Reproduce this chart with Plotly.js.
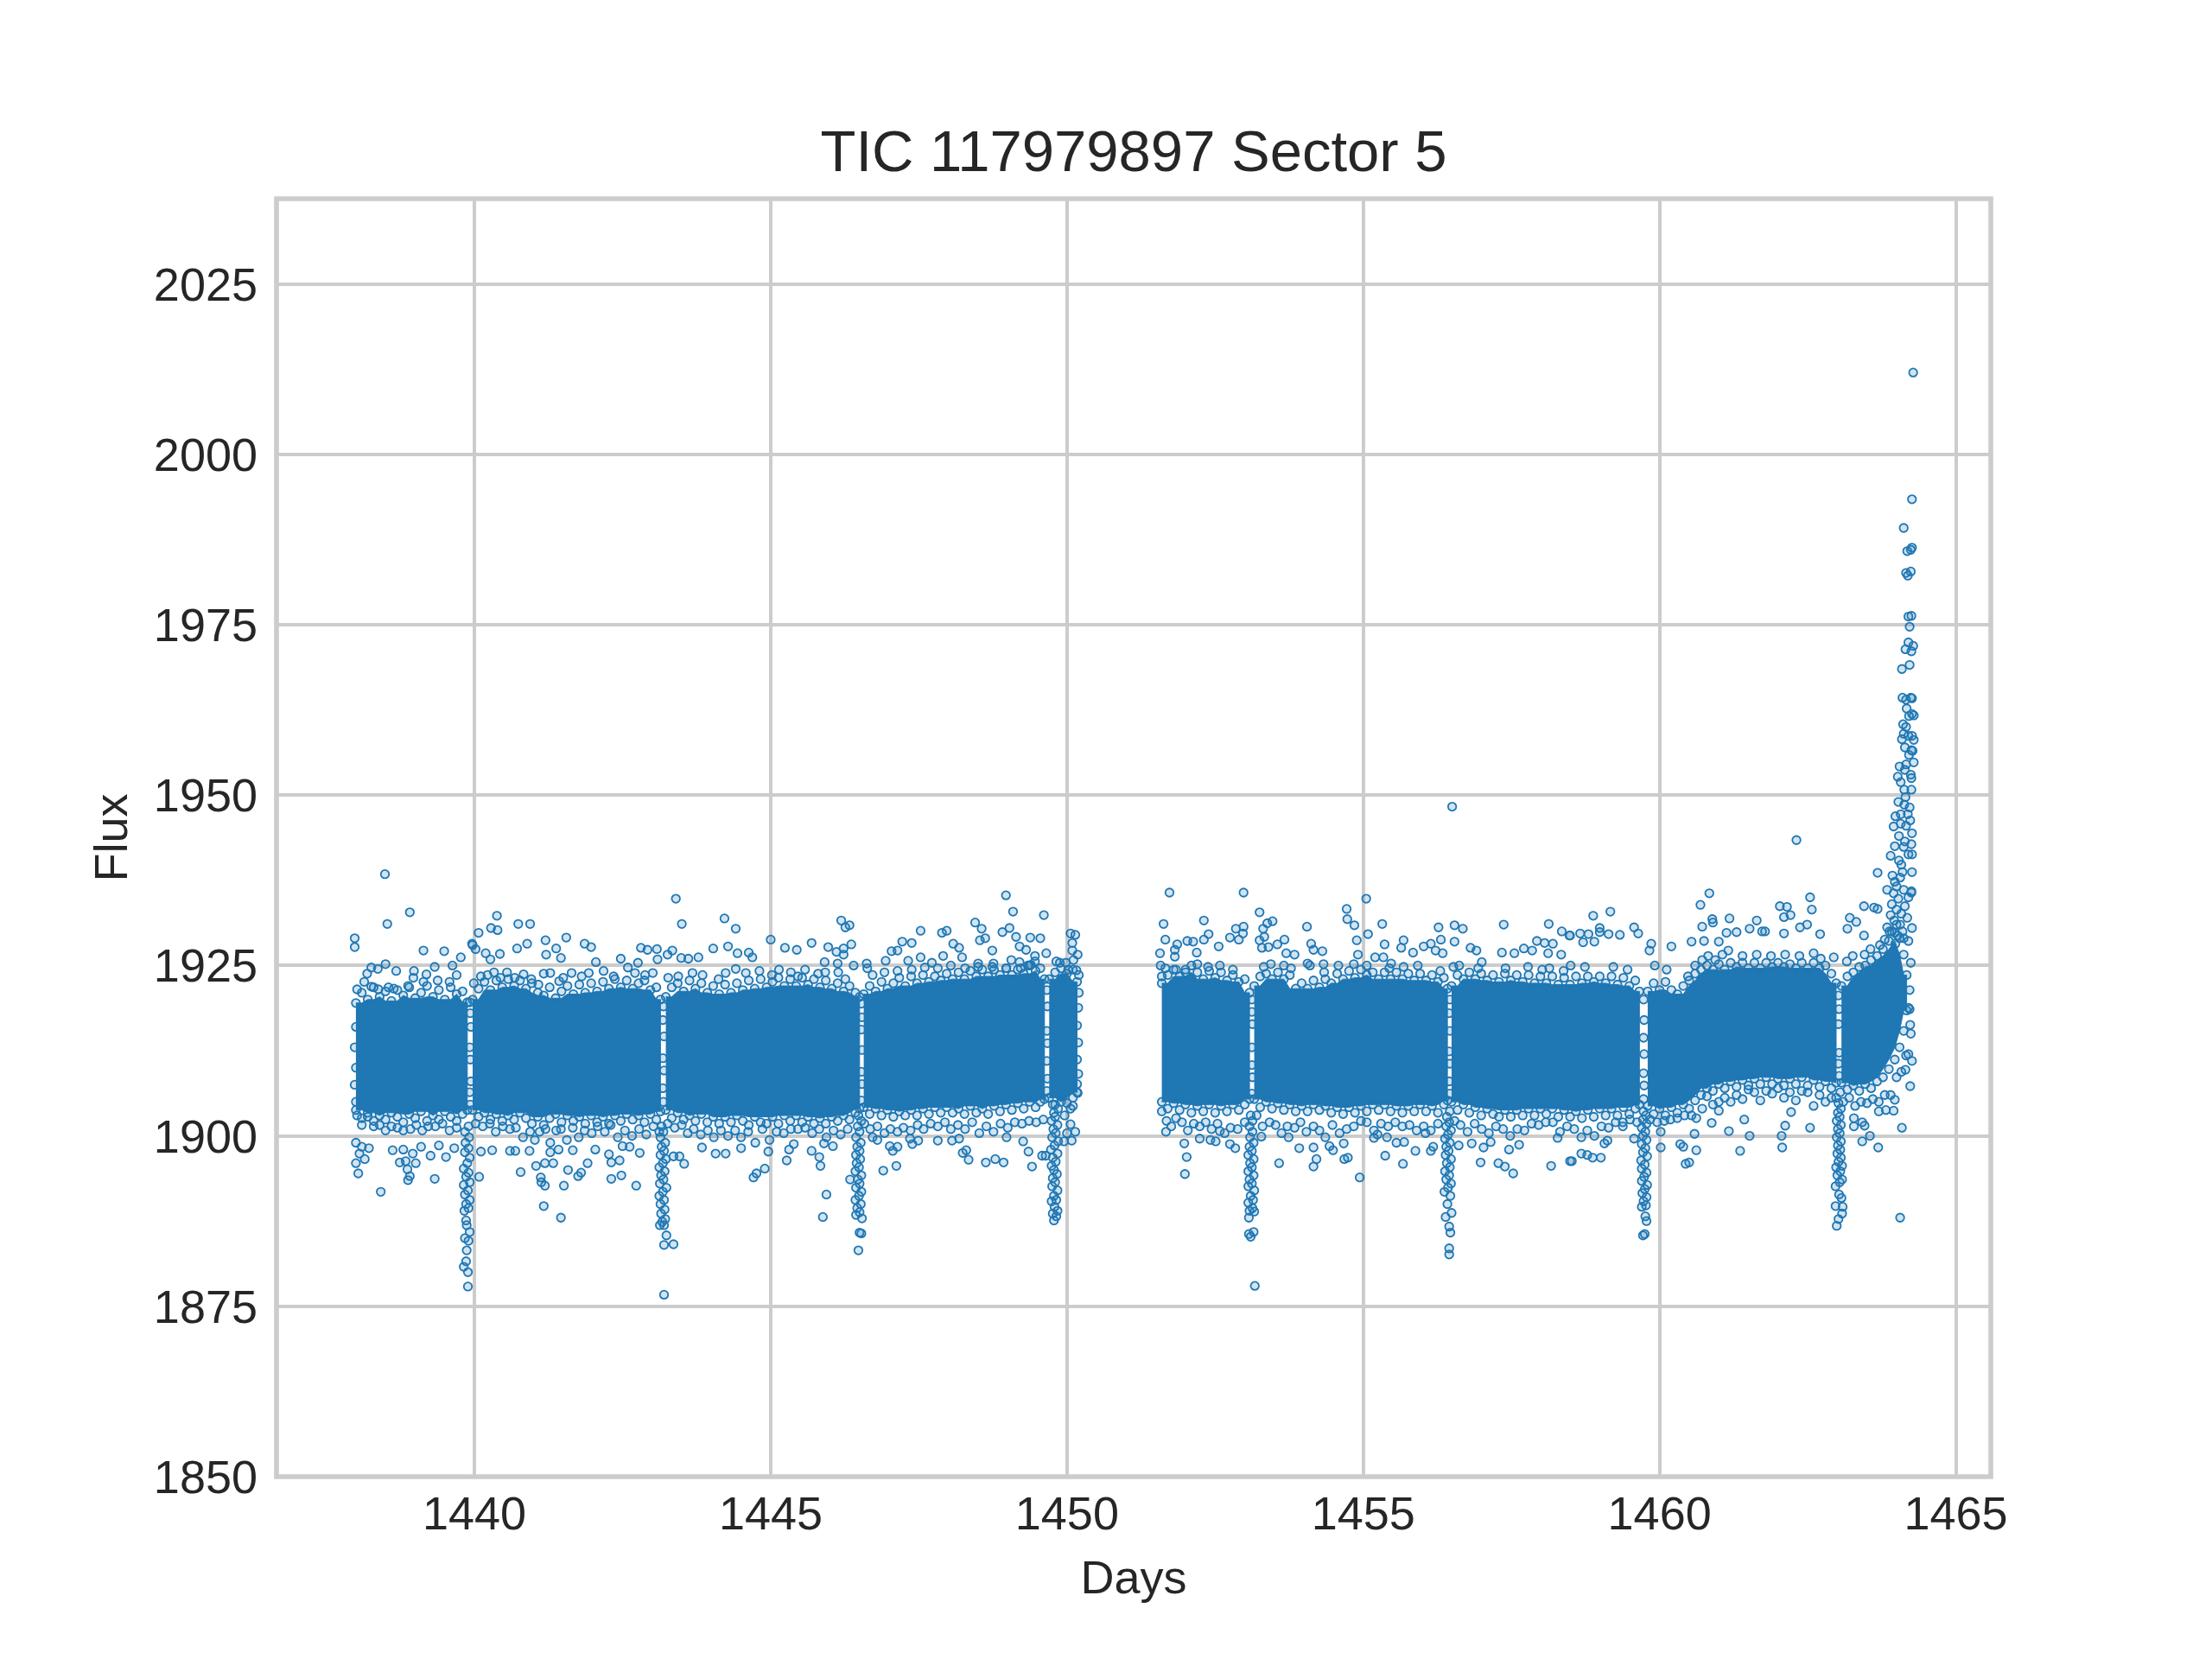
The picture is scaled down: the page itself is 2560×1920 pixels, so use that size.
<!DOCTYPE html>
<html><head><meta charset="utf-8">
<script src="https://cdn.plot.ly/plotly-3.0.1.min.js"></script>
<style>html,body{margin:0;padding:0;background:#fff}#c{width:2560px;height:1920px}</style>
</head><body><div id="c"></div>
<script>
const chartTitle = "TIC 117979897 Sector 5", xLabel = "Days", yLabel = "Flux";
const xTicks = [1440,1445,1450,1455,1460,1465];
const yTicks = [1850,1875,1900,1925,1950,1975,2000,2025];

// Solid body of the light curve, read as [day, upper edge, lower edge]; too many points overlap there to read singly.
const bodyA = [[1438,1919.5,1903.8],[1438.1,1921,1902.6],[1438.2,1920,1903.4],[1438.3,1921.8,1902.2],[1438.4,1920.4,1903],[1438.5,1921.2,1902.4],[1438.6,1919.8,1903.4],[1438.7,1921.4,1902.8],[1438.8,1920.6,1902],[1438.9,1921.8,1903.2],[1439,1920.2,1902.6],[1439.1,1921,1903.6],[1439.2,1922,1902.2],[1439.3,1920.4,1903],[1439.4,1921.4,1902.4],[1439.5,1920,1903.6],[1439.6,1921.8,1902.8],[1439.7,1920.8,1902.2],[1439.8,1921.2,1903.2],[1439.88,1919.6,1903.8]];
const bodyB = [[1439.97,1920,1903.8],[1440.07,1921.6,1902.8],[1440.17,1922.6,1903.4],[1440.27,1921.4,1902.4],[1440.37,1922.8,1903.2],[1440.47,1921.8,1902.2],[1440.57,1923,1903],[1440.67,1922,1902.4],[1440.77,1922.8,1903.4],[1440.87,1921.6,1902.6],[1440.97,1922.4,1901.8],[1441.07,1921,1902.8],[1441.17,1920.6,1901.6],[1441.27,1921.8,1902.6],[1441.37,1920.2,1903.2],[1441.47,1921.2,1902],[1441.57,1922,1903],[1441.67,1920.8,1902.2],[1441.77,1922.2,1902.8],[1441.87,1921,1901.8],[1441.97,1922.4,1903],[1442.07,1921.2,1902],[1442.17,1922.6,1902.8],[1442.27,1921.6,1901.8],[1442.37,1923,1903],[1442.47,1921.8,1902.2],[1442.57,1922.8,1903.2],[1442.67,1921.6,1902.4],[1442.77,1922.4,1903],[1442.87,1922.8,1902],[1442.97,1921.4,1903.2],[1443.07,1921.8,1902.4],[1443.14,1920,1903.6]];
const bodyC = [[1443.23,1920.4,1903.8],[1443.33,1921.8,1902.6],[1443.43,1922.4,1903.4],[1443.53,1921.2,1902.4],[1443.63,1922.8,1903],[1443.73,1921.6,1902.2],[1443.83,1922.4,1903.2],[1443.93,1921,1902],[1444.03,1922,1902.8],[1444.13,1920.8,1901.8],[1444.23,1922.2,1902.8],[1444.33,1921,1902],[1444.43,1922.4,1903],[1444.53,1921.4,1902.2],[1444.63,1922.8,1901.6],[1444.73,1921.6,1902.8],[1444.83,1923,1902],[1444.93,1921.8,1901.8],[1445.03,1922.6,1902.8],[1445.13,1923.2,1901.8],[1445.23,1922,1903],[1445.33,1923,1902.2],[1445.43,1922,1903],[1445.53,1923.2,1902],[1445.63,1922.2,1902.8],[1445.73,1923,1901.8],[1445.83,1921.8,1902.6],[1445.93,1922.8,1901.8],[1446.03,1921.6,1902.8],[1446.13,1922.4,1902.2],[1446.23,1921.2,1903],[1446.33,1922,1902.4],[1446.43,1921,1903.4],[1446.5,1920.4,1904]];
const bodyD = [[1446.57,1920.8,1904.2],[1446.67,1922,1903.2],[1446.77,1921.2,1904],[1446.87,1922.6,1903],[1446.97,1921.6,1903.8],[1447.07,1922.4,1902.8],[1447.17,1923.2,1903.6],[1447.27,1922,1903],[1447.37,1923.4,1903.8],[1447.47,1922.4,1903],[1447.57,1923.6,1904],[1447.67,1922.6,1903.2],[1447.77,1923.4,1904.2],[1447.87,1922.8,1903.4],[1447.97,1923.8,1904.2],[1448.07,1923,1903.4],[1448.17,1924,1904],[1448.27,1923,1903.2],[1448.37,1924.2,1904.4],[1448.47,1923.4,1903.4],[1448.57,1924.4,1904],[1448.67,1923.4,1903.2],[1448.77,1924.4,1904.4],[1448.87,1923.6,1903.6],[1448.97,1924.6,1904.6],[1449.07,1923.6,1903.8],[1449.17,1924.4,1904.8],[1449.27,1923.8,1904],[1449.37,1925,1905],[1449.47,1924.2,1904.2],[1449.55,1924.6,1905],[1449.62,1923,1905.4]];
const bodyE = [[1449.7,1923,1905.6],[1449.8,1924,1904.6],[1449.9,1924.6,1905],[1450,1923.8,1904.8],[1450.1,1924.4,1905.6],[1450.17,1922.6,1906.4]];
const bodyF = [[1451.6,1922.4,1905],[1451.7,1923.6,1904],[1451.8,1924.4,1904.8],[1451.9,1923.4,1903.8],[1452,1924,1904.6],[1452.1,1925,1903.4],[1452.2,1924,1904.4],[1452.3,1923,1903.6],[1452.4,1924.2,1904.6],[1452.5,1923.2,1903.4],[1452.6,1924,1904.4],[1452.7,1922.8,1903.6],[1452.8,1923.6,1904.6],[1452.9,1922.6,1903.8],[1453,1923,1904.6],[1453.08,1921,1905.4]];
const bodyG = [[1453.16,1922,1905.4],[1453.26,1923.4,1904.2],[1453.36,1923.8,1905],[1453.46,1923,1904],[1453.56,1924,1904.8],[1453.66,1923,1903.8],[1453.76,1923.6,1904.6],[1453.86,1921.6,1903.6],[1453.96,1922.4,1904.4],[1454.06,1921.6,1903.6],[1454.16,1922.8,1904.6],[1454.26,1921.8,1903.8],[1454.36,1923,1904.4],[1454.46,1922.4,1903.4],[1454.56,1923.8,1904.2],[1454.66,1923,1903.2],[1454.76,1924.2,1904.2],[1454.86,1923.2,1903.4],[1454.96,1924.4,1904.4],[1455.06,1923.6,1903.6],[1455.16,1924,1904.6],[1455.26,1923,1903.8],[1455.36,1924,1904.6],[1455.46,1923,1903.6],[1455.56,1924,1904.4],[1455.66,1923,1903.4],[1455.76,1923.8,1904.4],[1455.86,1922.8,1903.6],[1455.96,1923.8,1904.6],[1456.06,1922.8,1903.6],[1456.16,1923.6,1904.4],[1456.26,1922.6,1903.4],[1456.36,1923.2,1904.6],[1456.42,1921.6,1905.2]];
const bodyH = [[1456.49,1922,1905],[1456.59,1923.6,1903.8],[1456.69,1923,1904.6],[1456.79,1924,1903.4],[1456.89,1923,1904.2],[1456.99,1923.8,1903],[1457.09,1922.8,1904],[1457.19,1923.6,1903.2],[1457.29,1922.6,1902.8],[1457.39,1923.8,1903.8],[1457.49,1922.8,1902.8],[1457.59,1923.6,1903.8],[1457.69,1922.6,1903],[1457.79,1923.6,1904],[1457.89,1922.4,1903],[1457.99,1923.4,1904],[1458.09,1922.4,1903.2],[1458.19,1923.4,1904],[1458.29,1922.2,1902.8],[1458.39,1923.2,1903.8],[1458.49,1922.2,1902.8],[1458.59,1923.4,1903.6],[1458.69,1922.4,1902.6],[1458.79,1923.4,1903.8],[1458.89,1922.6,1902.8],[1458.99,1923.4,1904],[1459.09,1922.4,1903],[1459.19,1923.4,1904],[1459.29,1922.2,1903],[1459.39,1923.2,1904.2],[1459.49,1922,1903.2],[1459.59,1922.8,1904],[1459.66,1921.2,1904.6]];
const bodyI = [[1459.8,1921.2,1904.4],[1459.9,1922.4,1903.2],[1460,1921.4,1904],[1460.1,1922.6,1903],[1460.2,1921.4,1904.2],[1460.3,1920.8,1903.4],[1460.4,1922,1904.6],[1460.5,1922.8,1904],[1460.6,1923.8,1905.2],[1460.7,1924.4,1906],[1460.8,1925,1907],[1460.9,1924.4,1906.6],[1461,1925.2,1907.6],[1461.1,1924.4,1907],[1461.2,1925.4,1908],[1461.3,1924.8,1907.2],[1461.4,1925.4,1908.2],[1461.5,1924.6,1907.4],[1461.6,1925.4,1908.4],[1461.7,1924.6,1907.6],[1461.8,1925.4,1908.6],[1461.9,1924.8,1907.6],[1462,1925.4,1908.4],[1462.1,1924.8,1907.4],[1462.2,1925.2,1908.4],[1462.3,1924.6,1907.6],[1462.4,1925.4,1908.6],[1462.5,1924.6,1907.4],[1462.6,1925.4,1908.2],[1462.7,1924.6,1907.2],[1462.8,1925,1908],[1462.9,1923.8,1907],[1462.98,1922.4,1907.8]];
const bodyJ = [[1463.07,1922,1907.8],[1463.17,1923.4,1906.8],[1463.27,1924,1907.4],[1463.37,1924.8,1906.6],[1463.47,1925,1907.6],[1463.57,1925.8,1907],[1463.67,1926.4,1908],[1463.77,1927.4,1908.6],[1463.87,1928.6,1909.8],[1463.97,1929.8,1911.2],[1464.05,1929,1913],[1464.12,1926.6,1915.4],[1464.17,1923.6,1918.4]];
const bodySlices = [bodyA,bodyB,bodyC,bodyD,bodyE,bodyF,bodyG,bodyH,bodyI,bodyJ];

// Points that fall in the narrow slits between body slices
const slitPoints = [[1439.93,1904.6],[1439.92,1906.4],[1439.94,1908],[1439.93,1911.2],[1439.92,1913],[1439.94,1916],[1439.93,1918],[1439.92,1919.6],
[1443.19,1905],[1443.18,1907],[1443.2,1909.6],[1443.18,1911.4],[1443.2,1914.6],[1443.18,1917],[1443.19,1919],
[1446.53,1905.2],[1446.54,1907.6],[1446.53,1909.4],[1446.54,1912.6],[1446.53,1915.6],[1446.54,1917.4],[1446.53,1919.4],
[1449.66,1906.6],[1449.67,1908.4],[1449.66,1911],[1449.67,1913.6],[1449.66,1915.4],[1449.67,1919],[1449.66,1921.4],
[1453.12,1906.2],[1453.13,1908.6],[1453.12,1910.4],[1453.12,1913],[1453.13,1916.4],[1453.12,1918.2],[1453.12,1920],
[1456.46,1906.2],[1456.45,1908],[1456.46,1910.6],[1456.45,1912.4],[1456.46,1915.4],[1456.45,1918],[1456.46,1920],
[1459.73,1905.4],[1459.74,1907.4],[1459.73,1909.2],[1459.74,1912],[1459.73,1914.4],[1459.74,1917],[1459.73,1920],
[1463.03,1908.8],[1463.02,1910.6],[1463.03,1912.2],[1463.02,1916.4],[1463.03,1918.6],[1463.02,1920.6]];

const highPoints = [[1438.49,1938.4],[1438.91,1932.8],[1438.53,1931.1],[1437.98,1929],[1437.98,1927.7],[1439.14,1927.2],[1439.49,1927.1],[1439.77,1926.2],[1438.5,1925.2],[1438.26,1924.7],[1438.37,1924.5],[1438.19,1923.8],[1438.68,1924.2],[1439.33,1924.8],[1439.63,1925],[1438.98,1924.2],[1439.19,1923.7],[1440.07,1929.8],[1440.28,1930.5],[1440.38,1932.3],[1440.39,1930.2],[1440.74,1931.1],[1440.94,1931.1],[1439.96,1928.2],[1439.97,1928],[1440.02,1927.4],[1440.19,1926.8],[1440.27,1925.9],[1440.43,1926.7],[1440.72,1927.5],[1440.89,1928.2],[1441.2,1928.7],[1441.55,1929.1],[1441.38,1927.5],[1441.86,1928.2],[1441.97,1927.7],[1441.46,1926.1],[1441.21,1926.6],[1442.05,1925.5],[1442.81,1927.6],[1442.92,1927.3],[1443.08,1927.4],[1443.34,1927.2],[1443.26,1926.6],[1443.4,1934.8],[1443.5,1931.1],[1444.22,1931.9],[1444.41,1930.4],[1445,1928.8],[1444.28,1927.8],[1444.03,1927.5],[1444.44,1926.8],[1444.63,1926.9],[1444.69,1926.2],[1443.49,1926.1],[1443.78,1926.2],[1443.61,1926],[1442.47,1926],[1442.76,1925.4],[1443.09,1925.9],
[1445.24,1927.6],[1445.44,1927.3],[1445.69,1928.3],[1445.97,1927.7],[1446.19,1931.6],[1446.26,1930.6],[1446.33,1930.9],[1446.11,1927],[1446.23,1927.5],[1446.36,1928.1],[1446.23,1926.6],[1445.91,1925.5],[1446.13,1925.3],[1446.4,1925],[1446.62,1925.3],[1446.63,1924.6],[1446.94,1925.7],[1447.04,1927.1],[1447.14,1927.2],[1447.22,1928.5],[1447.38,1928.3],[1447.53,1930.1],[1447.89,1929.8],[1447.97,1930.1],[1448.08,1928.2],[1448.18,1927.6],[1448.45,1931.3],[1448.56,1930.4],[1448.53,1928.7],[1448.62,1929],[1448.74,1927.2],[1448.97,1935.3],[1449.09,1932.9],[1449.61,1932.4],[1449.03,1930.5],[1448.91,1929.9],[1449.14,1929.2],[1449.38,1929.1],[1449.55,1929],[1449.2,1927.8],[1449.31,1927.3],[1449.65,1926.8],[1449.46,1926.4],[1450.06,1929.7],[1450.14,1929.5],[1450.09,1928.3],[1450.09,1927.2],[1450.18,1926.6],[1450.11,1925.8],[1449.88,1925.4],[1449.98,1925.4],[1450.16,1924.3],[1449.9,1923],[1447.32,1925.7],[1447.53,1926.2],[1447.72,1925.4],[1447.91,1926.4],[1448.23,1926.2],[1448.5,1925.3],[1448.76,1925.3],[1449.06,1925.8],[1449.2,1925.5],[1449.39,1925.1],
[1451.73,1935.7],[1451.63,1931.1],[1451.66,1928.8],[1451.57,1926.8],[1451.58,1925],[1452.31,1931.6],[1452.98,1935.7],[1453.25,1932.8],[1452.85,1930.4],[1452.98,1930.7],[1452.97,1929.7],[1452.75,1929.1],[1452.9,1928.8],[1452.39,1929.6],[1452.31,1928.8],[1452.03,1928.6],[1452.13,1928.5],[1451.86,1928.1],[1451.82,1927.3],[1451.82,1926.3],[1452.56,1927.8],[1452.19,1926.9],[1453.31,1930.4],[1453.38,1931.2],[1453.47,1931.5],[1453.25,1928.7],[1453.33,1929.2],[1453.29,1927.6],[1453.4,1927.7],[1453.55,1928.1],[1453.67,1928.8],[1453.7,1926.8],[1454.05,1930.7],[1454.12,1928.2],[1454.16,1927.3],[1454.31,1927.1],[1454.72,1933.3],[1454.73,1931.8],[1454.85,1930.9],[1455.05,1934.8],[1455.32,1931.1],[1455.08,1929.6],[1454.89,1928.7],[1455.36,1928.1],[1455.68,1928.7],[1455.64,1927.6],[1455.84,1926.9],[1456.02,1927.8],[1456.14,1928.2],[1456.22,1927.2],[1456.31,1928.8],[1456.34,1926.8],[1456.27,1930.6],[1456.54,1930.9],[1456.68,1930.4],[1456.54,1928.5],[1456.81,1927.6],[1456.91,1927.2],[1457.37,1931],[1457.34,1926.9],[1458.13,1931.1],[1458.35,1930],[1458.48,1929.4],[1457.93,1928.6],[1458.06,1928.3],[1458.2,1928.2],[1457.71,1927.5],[1457.85,1927.2],[1457.55,1926.8],[1458.12,1926.8],[1458.34,1926.6],[1457,1925.5],[1455.2,1926.2],[1455.34,1926.2],[1454.91,1926.6],[1455.47,1925.3],[1453.84,1926.6],[1454.06,1925.3],[1454.33,1925.2],[1456.5,1948.3],
[1458.88,1932.3],[1459.17,1932.9],[1458.49,1929.4],[1458.66,1929.7],[1458.8,1929.6],[1458.99,1930.5],[1458.99,1929.9],[1459.14,1929.6],[1459.33,1929.5],[1459.57,1930.6],[1459.64,1929.7],[1458.71,1928.4],[1458.9,1928.5],[1459.86,1928.2],[1459.83,1927.2],[1460.2,1927.8],[1460.54,1928.5],[1460.84,1935.6],[1460.69,1933.9],[1460.72,1930.7],[1460.89,1931.8],[1460.9,1931.3],[1461.18,1931.9],[1461.64,1931.6],[1462.03,1933.7],[1462.15,1933.6],[1462.1,1932.1],[1462.21,1932.4],[1462.54,1935],[1462.57,1933.2],[1462.37,1930.6],[1462.49,1931],[1462.31,1943.4],[1463.21,1932],[1463.32,1931.4],[1463.17,1930.4],[1463.45,1929.4],[1463.45,1933.7],[1463.62,1933.5],[1463.68,1933.3],[1463.68,1938.6],[1461.73,1930],[1461.78,1930],[1462.1,1929.7],[1462.71,1929.6],[1460.75,1928.6],[1461,1928.5],[1461.13,1929.8],[1461.3,1929.9],[1461.52,1930.4]];

const upperFringe = [[1438.02,1921.5],[1438.14,1922.6],[1438.26,1921.9],[1438.38,1921.5],[1438.55,1921.8],[1438.64,1921.6],[1438.88,1922],[1438.97,1923.2],[1439.14,1922.6],[1439.38,1922.8],[1439.58,1922.6],[1439.7,1923.6],[1439.99,1922.4],[1440.11,1923.4],[1440.22,1923.6],[1440.33,1924],[1440.44,1923.2],[1440.55,1924],[1440.68,1923.2],[1440.83,1923.7],[1440.96,1923],[1441.08,1922.2],[1441.17,1923.8],[1441.28,1923.9],[1441.43,1922.7],[1441.5,1923.2],[1441.64,1923.9],[1441.81,1923.4],[1441.93,1923.9],[1442.18,1924.2],[1442.35,1923.4],[1442.59,1924.7],[1442.71,1923.9],[1442.88,1923.6],[1443.01,1923.9],[1443.27,1923.2],[1443.44,1923.4],[1443.68,1923.9],[1443.85,1923.6],[1444.12,1923],[1444.24,1923.9],[1444.41,1924.5],[1444.58,1923.9],[1444.81,1924.2],[1445.02,1923.6],[1445.14,1924.4],[1445.34,1924],[1445.46,1923.4],[1445.58,1924.4],[1445.8,1923.8],[1445.92,1924],[1446.14,1924],[1446.26,1923],[1446.72,1923.6],[1446.92,1924],[1447.14,1924.2],[1447.38,1924.4],[1447.6,1924.7],[1447.82,1924.6],[1448.04,1925],[1448.28,1924.6],[1448.5,1924.8],[1448.74,1924.8],[1448.98,1924.6],[1449.22,1924.6],[1449.34,1925],[1449.46,1925.6],[1449.82,1925.6],[1450.02,1924.4],[1450.2,1921],[1450.2,1923.6],[1450.19,1918.8],[1450.17,1916.2],[1450.19,1913.7],[1450.17,1911.2],[1450.19,1909.1],[1450.17,1907.6],[1450.18,1906.3],[1438,1916],[1437.98,1913],[1438,1910],[1437.98,1907.5],[1438,1905],
[1451.6,1923.4],[1451.66,1924.6],[1451.84,1924.4],[1452,1924.4],[1452.2,1925.2],[1452.38,1924.8],[1452.58,1925],[1452.8,1924.4],[1453.32,1924.8],[1453.44,1925.2],[1453.66,1925],[1453.78,1924.6],[1454.1,1925],[1454.34,1924],[1454.58,1925],[1454.84,1925.2],[1455.06,1925],[1455.44,1924.6],[1455.68,1924.8],[1455.92,1925],[1456.3,1924.2],[1456.52,1924.8],[1456.62,1925],[1456.94,1924.6],[1457.4,1924.6],[1457.78,1924.8],[1458.02,1924.4],[1458.14,1924.6],[1458.38,1924.2],[1458.5,1925],[1458.74,1924.8],[1459.22,1924.8],[1459.46,1924.4],[1459.92,1925],[1460.12,1924.4],[1460.48,1923.4],[1460.6,1925],[1460.72,1925.8],[1460.82,1926.4],[1460.94,1925.8],[1461.06,1926.6],[1461.16,1927.2],[1461.4,1926.4],[1461.64,1926.6],[1461.88,1926.4],[1462.12,1926.6],[1462.36,1926.4],[1462.6,1926.8],[1462.72,1926],[1462.94,1926.2],[1463.16,1925.6],[1463.26,1926.4],[1463.46,1926.6],[1463.56,1927.4],[1463.72,1928],[1463.8,1928.8],[1463.88,1930],[1464,1931],[1464.1,1930],[1464.24,1925.4],[1464.22,1921.4],[1464.24,1915],[1464.22,1918.6],[1464.2,1918.8],[1464.23,1916.3],[1464.2,1912],[1464.26,1911],[1464.15,1909.7],[1464.23,1907.3],[1464.26,1930.5],[1464.25,1935.7]];

const lowerFringe = [[1438.02,1903],[1438.1,1901.6],[1438.2,1902.8],[1438.3,1901.4],[1438.4,1901.6],[1438.5,1900.8],[1438.6,1901.4],[1438.7,1901.2],[1438.8,1900.8],[1438.92,1901],[1439.02,1901.6],[1439.12,1900.8],[1439.22,1901.4],[1439.34,1901.4],[1439.46,1901.8],[1439.58,1900.8],[1439.7,1901.2],[1440.02,1901.8],[1440.14,1901.4],[1440.26,1901.8],[1440.36,1900.6],[1440.48,1901.4],[1440.6,1901],[1440.7,1901.2],[1440.82,1899.8],[1440.94,1900.6],[1441.02,1899.4],[1441.1,1900.6],[1441.2,1901],[1441.28,1899],[1441.38,1900.8],[1441.46,1901],[1441.56,1899.4],[1441.66,1901.2],[1441.76,1899.8],[1441.86,1900.8],[1441.98,1900.4],[1442.08,1901.4],[1442.2,1900.6],[1442.3,1901.6],[1442.42,1899.8],[1442.54,1900.8],[1442.66,1900],[1442.78,1901],[1442.9,1900.2],[1443.02,1901.4],[1443.12,1900.6],[1443.26,1901.8],[1443.38,1901.2],[1443.5,1901.6],[1443.6,1900.4],[1443.7,1901],[1443.82,1900.2],[1443.94,1900.8],[1444.04,1899.8],[1444.16,1900.8],[1444.28,1900],[1444.4,1900.8],[1444.5,1899.8],[1444.62,1900.6],[1444.74,1899],[1444.86,1901],[1444.98,1899.4],[1445.1,1900.6],[1445.22,1900.4],[1445.34,1901],[1445.46,1901],[1445.58,1901.2],[1445.7,1900.4],[1445.82,1901],[1445.94,1899.8],[1446.06,1900.8],[1446.18,1900.2],[1446.3,1901],[1446.58,1901.8],[1446.68,1901],[1446.8,1901.4],[1446.92,1900.4],[1447.02,1901],[1447.14,1900.6],[1447.24,1901.2],[1447.36,1900.8],[1447.48,1901.6],[1447.58,1901],[1447.7,1901.8],[1447.82,1901.4],[1447.94,1902],[1448.04,1901],[1448.16,1901.6],[1448.28,1901],[1448.4,1902],[1448.52,1900.4],[1448.64,1901.4],[1448.76,1900.6],[1448.88,1901.8],[1449,1901.2],[1449.12,1902],[1449.24,1901.8],[1449.36,1902.2],[1449.48,1902],[1449.6,1902.4],[1449.96,1903],[1450.06,1904],[1450.1,1904.4],[1450.06,1901.7],[1450.14,1900.6],[1450.08,1899.3],[1449.95,1899.2],[1450,1900.4],
[1451.6,1903.6],[1451.68,1902.2],[1451.76,1901.4],[1451.84,1902.6],[1451.94,1902],[1452.04,1900.8],[1452.14,1901.8],[1452.24,1901.4],[1452.34,1902],[1452.44,1901],[1452.54,1901.8],[1452.66,1900.4],[1452.76,1901.2],[1452.88,1901],[1453,1902],[1453.2,1903],[1453.3,1901.4],[1453.42,1902],[1453.52,1901.6],[1453.62,1900.4],[1453.72,1901.4],[1453.84,1901.2],[1453.94,1902],[1454.04,1900.6],[1454.16,1901.4],[1454.26,1900.8],[1454.36,1899.8],[1454.48,1901.6],[1454.6,1900.4],[1454.72,1901],[1454.84,1901.4],[1454.96,1902.2],[1455.06,1902],[1455.18,1900.8],[1455.3,1901.8],[1455.42,1901.4],[1455.54,1902],[1455.66,1901.4],[1455.78,1901.6],[1455.9,1900.8],[1456.02,1901.4],[1456.14,1900.8],[1456.26,1901.8],[1456.54,1902.2],[1456.64,1901.6],[1456.76,1900.6],[1456.88,1901.8],[1457,1901],[1457.12,1900.4],[1457.24,1901.4],[1457.36,1901],[1457.48,1900],[1457.6,1901],[1457.72,1900.8],[1457.84,1901.8],[1457.96,1901.6],[1458.08,1902],[1458.2,1902],[1458.32,1900.6],[1458.44,1901.4],[1458.56,1901],[1458.68,1899.8],[1458.78,1900.8],[1458.9,1900],[1459.02,1901.4],[1459.14,1901.2],[1459.26,1902],[1459.38,1902],[1459.5,1902.4],[1459.62,1902],[1459.84,1902.4],[1459.96,1902],[1460.08,1902.2],[1460.18,1902.4],[1460.3,1902.6],[1460.42,1903],[1460.54,1903],[1460.62,1902.6],[1460.72,1904],[1460.8,1905.8],[1460.9,1904.6],[1461,1905],[1461.1,1905.6],[1461.2,1905],[1461.3,1906],[1461.4,1905.4],[1461.5,1906.8],[1461.6,1906.4],[1461.7,1905.2],[1461.8,1906.6],[1461.9,1906.2],[1462,1907],[1462.1,1905.6],[1462.2,1906.4],[1462.3,1905.2],[1462.4,1906.6],[1462.5,1906.4],[1462.6,1904.4],[1462.7,1906],[1462.8,1905],[1462.9,1905.6],[1463.1,1905],[1463.2,1905.6],[1463.3,1904.4],[1463.4,1905],[1463.5,1904.8],[1463.6,1905.4],[1463.7,1905],[1463.8,1906],[1463.9,1906],[1464,1908.6],[1464.08,1909.4],[1464.16,1911.8],[1463.28,1902.6],[1463.42,1902],[1463.97,1905.3],[1463.95,1903.7],[1463.82,1903.8],[1463.7,1903.6],[1463.46,1901.5],[1463.28,1901.4]];

const lowPoints = [[1438.04,1894.5],[1438,1896],[1438.15,1896.6],[1438,1899],[1438.06,1897.4],[1438.1,1898.4],[1438.22,1898.2],[1438.42,1891.8],[1438.74,1896.1],[1438.84,1896.3],[1438.87,1895.1],[1438.91,1894.1],[1438.88,1893.5],[1439.01,1896],[1439.33,1893.7],[1439.26,1897.1],[1439.52,1896.9],[1438.96,1897.4],[1438.62,1897.9],[1438.8,1898],[1439.1,1898.4],[1439.4,1898.6],[1439.66,1898.2],[1440.08,1894],[1440.11,1897.7],[1440.3,1897.9],[1440.6,1897.8],[1440.69,1897.8],[1440.93,1897.8],[1440.78,1894.7],[1441.04,1895.6],[1441.12,1893.9],[1441.13,1893.2],[1441.19,1892.7],[1441.17,1889.7],[1441.46,1888],[1441.51,1892.7],[1441.58,1895],[1441.33,1896],[1441.19,1896],[1441.8,1894.6],[1441.75,1894.1],[1441.91,1896],[1442.31,1893.7],[1442.48,1894.2],[1442.73,1892.7],[1442.45,1896.4],[1442.31,1896.1],[1442.79,1897.5],[1442.5,1898.5],[1442.27,1897.3],[1441.28,1897.6],[1441.42,1898],[1441.66,1897.9],[1442.04,1898],[1442.62,1898.4],[1443.46,1897],[1443.36,1897],[1443.54,1895.9],[1444.71,1893.9],[1444.76,1894.5],[1444.9,1895.2],[1444.96,1897.7],[1444.24,1897.4],[1444.07,1897.4],[1443.84,1898.3],[1444.5,1898.2],
[1445.27,1896.4],[1445.39,1898.8],[1445.31,1898],[1445.69,1897.8],[1445.82,1896.9],[1445.84,1895.6],[1445.94,1891.4],[1445.88,1888.1],[1445.9,1898.9],[1446.05,1898.5],[1446.9,1894.9],[1447.12,1895.6],[1447.01,1898.5],[1447.06,1897.8],[1447.14,1898.4],[1447.35,1899.6],[1447.49,1899.3],[1447.39,1898.8],[1447.82,1899.3],[1448.06,1899.3],[1448.18,1899.6],[1448.24,1897.5],[1448.3,1897.9],[1448.34,1896.5],[1448.63,1896.1],[1448.79,1896.6],[1448.93,1896.1],[1448.98,1899.8],[1449.26,1899.2],[1449.35,1897.7],[1449.41,1895.5],[1449.58,1897.1],[1449.64,1897.1],[1446.34,1893.6],[1446.72,1899.8],[1446.8,1899.4],
[1451.99,1894.4],[1452.02,1896.9],[1451.98,1898.9],[1452.24,1899.6],[1452.42,1899.4],[1452.51,1899.2],[1452.75,1898.8],[1452.84,1898.2],[1452.58,1900.7],[1451.67,1900.6],[1453.28,1899.9],[1453.58,1896],[1453.74,1899.8],[1453.92,1898.2],[1454.16,1898.3],[1454.21,1896.6],[1454.16,1895.5],[1454.43,1898.5],[1454.49,1897.9],[1454.68,1896.6],[1454.74,1896.8],[1454.67,1898.9],[1454.94,1893.9],[1455.18,1899.7],[1455.24,1900.2],[1455.4,1899.8],[1455.56,1899],[1455.69,1899.1],[1455.37,1897.1],[1455.67,1895.9],[1455.88,1897.8],[1456.14,1897.8],[1456.18,1898.4],[1456.05,1900.4],[1456.61,1898.6],[1456.83,1898.9],[1457.03,1898.3],[1456.98,1896.1],[1457.28,1896],[1457.39,1895.5],[1457.53,1894.5],[1457.15,1899.1],[1457.46,1898],[1457.63,1898.7],[1458.17,1895.6],[1458.28,1899.7],[1458.49,1896.3],[1458.52,1896.3],
[1458.68,1897.4],[1458.78,1897.2],[1458.87,1896.8],[1459.01,1896.8],[1459.07,1898.9],[1459.12,1899.3],[1459.38,1901.4],[1459.57,1899.6],[1460.02,1898.3],[1460.02,1900.6],[1460.35,1898.8],[1460.4,1898.4],[1460.44,1895.9],[1460.5,1896.1],[1460.62,1897.9],[1460.59,1900.3],[1461.17,1900.7],[1461.36,1897.8],[1461.52,1900],[1461.43,1902.4],[1462.06,1900],[1462.07,1898.3],[1462.54,1901.2],[1462.12,1901.5],[1461,1903.7],[1460.88,1901.9],[1462.22,1903.5],[1463.69,1898.3],[1463.55,1900],[1463.42,1899.2],[1464.09,1901.2],[1464.06,1888]];

const dipPoints = [[1439.89,1877.9],[1439.89,1880],[1439.82,1880.8],[1439.86,1881.6],[1439.87,1883.2],[1439.9,1884.6],[1439.84,1885],[1439.92,1885.9],[1439.87,1886.9],[1439.86,1887.6],[1439.83,1889],[1439.9,1889.4],[1439.86,1890],[1439.92,1890.6],[1439.84,1891.4],[1439.89,1892],[1439.82,1892.8],[1439.92,1893.2],[1439.86,1894],[1439.9,1894.6],[1439.82,1895.2],[1439.88,1896],[1439.92,1896.8],[1439.84,1897.6],[1439.9,1898.2],[1439.85,1899],[1439.91,1899.8],[1439.84,1900.6],[1439.9,1901.4],
[1443.2,1876.7],[1443.2,1884],[1443.36,1884.1],[1443.24,1885.4],[1443.2,1886.9],[1443.13,1886.9],[1443.17,1887.4],[1443.22,1887.8],[1443.15,1888.6],[1443.21,1889.2],[1443.14,1890],[1443.2,1890.6],[1443.12,1891.2],[1443.18,1891.8],[1443.24,1892.4],[1443.13,1893],[1443.19,1893.6],[1443.15,1894.2],[1443.21,1894.8],[1443.12,1895.4],[1443.18,1896],[1443.23,1896.6],[1443.14,1897.2],[1443.2,1897.8],[1443.16,1898.4],[1443.22,1899],[1443.14,1899.8],[1443.19,1900.6],[1443.16,1901.4],
[1446.48,1883.2],[1446.5,1885.8],[1446.53,1885.7],[1446.54,1887.9],[1446.44,1888.4],[1446.5,1888.8],[1446.46,1889.4],[1446.52,1890],[1446.43,1890.6],[1446.49,1891.2],[1446.53,1891.8],[1446.44,1892.4],[1446.5,1893],[1446.47,1893.6],[1446.53,1894.2],[1446.43,1894.8],[1446.49,1895.4],[1446.45,1896],[1446.51,1896.6],[1446.44,1897.2],[1446.5,1897.8],[1446.46,1898.4],[1446.52,1899],[1446.44,1899.8],[1446.5,1900.6],[1446.47,1901.4],[1446.53,1902.2],[1446.48,1903],
[1449.78,1887.6],[1449.82,1888.2],[1449.76,1888.6],[1449.84,1889],[1449.79,1889.6],[1449.74,1890.4],[1449.82,1890.6],[1449.78,1891.2],[1449.84,1892],[1449.75,1892.6],[1449.8,1893.2],[1449.76,1893.8],[1449.83,1894.4],[1449.78,1895],[1449.74,1895.6],[1449.81,1896.2],[1449.76,1896.8],[1449.84,1897.4],[1449.73,1898],[1449.79,1898.6],[1449.85,1899.2],[1449.75,1899.8],[1449.81,1900.4],[1449.77,1901],[1449.84,1901.6],[1449.74,1902.2],[1449.8,1902.8],[1449.78,1903.4],[1449.85,1904],[1449.76,1904.6],
[1453.17,1878],[1453.07,1885.6],[1453.15,1885.9],[1453.1,1885.2],[1453.07,1888],[1453.16,1888.9],[1453.08,1889],[1453.13,1889.4],[1453.06,1890.2],[1453.14,1890.6],[1453.1,1891.2],[1453.16,1892],[1453.06,1892.6],[1453.12,1893],[1453.08,1893.6],[1453.15,1894.2],[1453.06,1894.8],[1453.12,1895.4],[1453.09,1896],[1453.15,1896.6],[1453.06,1897.2],[1453.12,1897.8],[1453.08,1898.4],[1453.15,1899],[1453.09,1899.8],[1453.13,1900.6],[1453.08,1901.4],[1453.13,1902.2],[1453.1,1903],
[1456.45,1882.6],[1456.45,1883.5],[1456.47,1885.8],[1456.45,1886.7],[1456.39,1888.1],[1456.49,1888.7],[1456.42,1890],[1456.47,1891.2],[1456.37,1891.8],[1456.43,1892.4],[1456.48,1893],[1456.4,1893.6],[1456.45,1894.2],[1456.38,1894.8],[1456.46,1895.4],[1456.41,1896],[1456.48,1896.6],[1456.39,1897.2],[1456.44,1897.8],[1456.4,1898.4],[1456.46,1899],[1456.38,1899.6],[1456.43,1900.2],[1456.48,1900.8],[1456.4,1901.4],[1456.45,1902],[1456.41,1902.8],[1456.46,1903.6],
[1459.75,1885.6],[1459.72,1885.4],[1459.78,1887.5],[1459.76,1888.2],[1459.7,1889.6],[1459.77,1889.8],[1459.73,1890.4],[1459.78,1891],[1459.71,1891.6],[1459.75,1892.2],[1459.79,1892.8],[1459.7,1893.4],[1459.74,1894],[1459.78,1894.6],[1459.7,1895.2],[1459.75,1895.8],[1459.69,1896.4],[1459.79,1897],[1459.72,1897.6],[1459.76,1898.2],[1459.7,1898.8],[1459.78,1899.4],[1459.72,1900],[1459.76,1900.6],[1459.7,1901.2],[1459.78,1901.8],[1459.72,1902.4],[1459.77,1903],[1459.73,1903.6],
[1462.99,1886.8],[1463.02,1887.8],[1463.08,1888.6],[1462.97,1889.7],[1463.09,1889.6],[1463.07,1890.9],[1463.03,1891.4],[1462.97,1892.6],[1463.04,1893.2],[1463.08,1893.6],[1463,1894.2],[1463.05,1894.8],[1462.98,1895.4],[1463.08,1895.6],[1463.02,1896.2],[1463.06,1896.8],[1463,1897.4],[1463.05,1898],[1463.01,1898.6],[1463.06,1899.2],[1462.99,1899.8],[1463.04,1900.4],[1463.01,1901],[1463.06,1901.6],[1462.99,1902.2],[1463.04,1902.8],[1463.01,1903.4],[1463.06,1904],[1463.02,1904.8],[1462.98,1905.6],[1463.05,1906.4]];

const flarePoints = [[1464.28,2012],[1464.26,1993.4],[1464.12,1989.2],[1464.18,1985.8],[1464.26,1986.3],[1464.24,1986],[1464.16,1982.6],[1464.24,1982.8],[1464.19,1982.2],[1464.25,1976.3],[1464.2,1976.2],[1464.22,1974.7],[1464.2,1972.4],[1464.28,1971.9],[1464.15,1971.4],[1464.25,1971.1],[1464.22,1969.1],[1464.09,1968.5],[1464.1,1964.3],[1464.24,1964.3],[1464.16,1964],[1464.26,1964.2],[1464.17,1962.7],[1464.26,1961.9],[1464.21,1961.6],[1464.29,1961.7],[1464.11,1960.4],[1464.16,1960],[1464.12,1959],[1464.2,1958.7],[1464.09,1958.2],[1464.26,1958.7],[1464.29,1958.1],[1464.14,1957],[1464.25,1956.6],[1464.21,1955.9],[1464.27,1956.5],[1464.05,1954.2],[1464.16,1954.5],[1464.29,1954.8],[1464.14,1953.7],[1464.02,1952.7],[1464.24,1953],[1464.07,1951.9],[1464.25,1952.5],[1464.13,1950.8],[1464.25,1950.8],[1464.15,1949.7],[1464.03,1949],[1464.13,1948.6],[1464.22,1948.2],[1463.98,1946.9],[1464.07,1947.2],[1464.19,1947.2],[1464.23,1946.3],[1463.95,1945.4],[1464.07,1945.8],[1464.16,1945.5],[1464.26,1944.4],[1464.04,1944],[1464.14,1943.2],[1463.97,1942.5],[1464.12,1942.4],[1464.25,1942.8],[1463.9,1941.1],[1464.2,1941.3],[1464.26,1941.3],[1464.04,1940.4],[1464.08,1939.8],[1464.1,1938.7],[1463.93,1938.2],[1464.26,1938.7],[1463.97,1937.3],[1464.06,1937.9],[1464,1936.6],[1463.84,1936.1],[1464.25,1935.9],[1464.12,1936.1],[1463.95,1935.6],[1464.03,1934.8],[1464.2,1935],[1464.14,1933.7],[1463.92,1934],[1464,1933.2],[1464.08,1932.6],[1463.9,1932.4],[1463.96,1931.6],[1464.06,1931],[1464.18,1932],[1463.84,1930.6],[1463.92,1930],[1464.02,1929.4],[1464.12,1929],[1464.2,1928.6],[1463.98,1928.2]];

// The solid fill follows the inner side of the read edges, so the edge points stay visible as single circles.
const bodyX=[],bodyY=[],edgePoints=[];
bodySlices.forEach(s=>{
  const near=(i,k)=>[s[Math.max(i-1,0)][k],s[i][k],s[Math.min(i+1,s.length-1)][k]];
  s.forEach((r,i)=>{bodyX.push(r[0]);bodyY.push(Math.min(...near(i,1)));edgePoints.push([r[0],r[1]],[r[0],r[2]]);});
  for(let i=s.length-1;i>=0;i--){bodyX.push(s[i][0]);bodyY.push(Math.max(...near(i,2)));}
  bodyX.push(null);bodyY.push(null);
});
const allPoints=[...edgePoints,...slitPoints,...highPoints,...upperFringe,...lowerFringe,...lowPoints,...dipPoints,...flarePoints];
const blue='#1f77b4';
const traces=[
 {type:'scatter',mode:'lines',x:bodyX,y:bodyY,fill:'toself',fillcolor:blue,line:{color:blue,width:1},hoverinfo:'skip',showlegend:false},
 {type:'scatter',mode:'markers',x:allPoints.map(p=>p[0]),y:allPoints.map(p=>p[1]),showlegend:false,
  marker:{size:9.5,color:'rgba(31,119,180,0.2)',line:{color:blue,width:1.8}}}
];
const font={family:'"Liberation Sans",Arial,sans-serif',color:'#262626'};
const axis={showgrid:true,gridcolor:'#cccccc',gridwidth:4.4,zeroline:false,showline:false,
 ticks:'',tickfont:{...font,size:54},automargin:false,layer:'below traces'};
const layout={width:2560,height:1920,paper_bgcolor:'#fff',plot_bgcolor:'#fff',showlegend:false,
 margin:{l:320,r:256,t:230,b:211,pad:0},font,
 title:{text:chartTitle,font:{...font,size:67},x:0.5,xanchor:'center',xref:'paper',y:0.909,yanchor:'middle'},
 xaxis:{...axis,range:[1436.66,1465.59],tickvals:xTicks,ticktext:xTicks.map(String),ticklabelstandoff:6,title:{text:xLabel,font:{...font,size:54},standoff:26}},
 yaxis:{...axis,range:[1850,2037.5],tickvals:yTicks,ticktext:yTicks.map(String),ticklabelstandoff:21,title:{text:yLabel,font:{...font,size:54},standoff:12}},
 shapes:[{type:'rect',xref:'paper',yref:'paper',x0:0,x1:1,y0:0,y1:1,layer:'below',line:{color:'#cccccc',width:5.6},fillcolor:'rgba(0,0,0,0)'}]
};
Plotly.newPlot('c',traces,layout,{displayModeBar:false,responsive:false});
</script></body></html>
